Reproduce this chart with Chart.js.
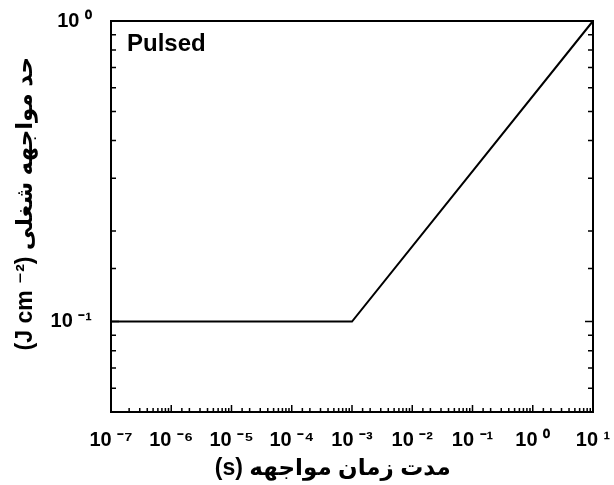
<!DOCTYPE html>
<html>
<head>
<meta charset="utf-8">
<script src="https://cdn.jsdelivr.net/npm/chart.js@4/dist/chart.umd.min.js"></script>
<style>
  body { margin: 0; background: #fff; }
  canvas { display: block; }
</style>
</head>
<body>
<canvas id="mpeChart" width="614" height="485"></canvas>
<script>
// exposure duration (s) vs exposure limit (J cm^-2)
const exposureTime = [1e-7, 1e-3, 10];
const exposureLimit = [0.1, 0.1, 1];

const xTickValues = [1e-7, 1e-6, 1e-5, 1e-4, 1e-3, 1e-2, 1e-1, 1, 10];
const xTickLabels = ['10 ⁻⁷', '10 ⁻⁶', '10 ⁻⁵', '10 ⁻⁴', '10 ⁻³', '10 ⁻²', '10 ⁻¹', '10 ⁰', '10 ¹'];
const yTickValues = [0.1, 1];
const yTickLabels = ['10 ⁻¹', '10 ⁰'];

// RTL embedding so the Persian reads right to left; spaces outside it nudge the centring
const xTitle = '\u202Bمدت زمان مواجهه (s)\u202C      ';
const yTitle = '    \u202Bحد مواجهه شغلی (J cm ⁻²)\u202C';
const panelLabel = 'Pulsed';

const tickFont = { family: 'Liberation Sans, Arial, sans-serif', size: 20, weight: 'bold' };

function decadeLabel(value, values, labels) {
    for (let i = 0; i < values.length; i++) {
        if (Math.abs(Math.log10(value) - Math.log10(values[i])) < 1e-6) return labels[i];
    }
    return '';
}

// frame, inward tick marks and the "Pulsed" label
const framePlugin = {
    id: 'frame',
    afterDatasetsDraw(chart) {
        const ctx = chart.ctx;
        const area = chart.chartArea;
        const xs = chart.scales.x, ys = chart.scales.y;
        ctx.save();
        ctx.strokeStyle = '#000';
        ctx.lineWidth = 1.5;
        ctx.beginPath();
        ys.ticks.forEach(t => {
            const y = ys.getPixelForValue(t.value);
            if (y <= area.top + 1 || y >= area.bottom - 1) return;
            const len = decadeLabel(t.value, yTickValues, yTickLabels) ? 8 : 5;
            ctx.moveTo(area.left, y); ctx.lineTo(area.left + len, y);
            ctx.moveTo(area.right, y); ctx.lineTo(area.right - len, y);
        });
        xs.ticks.forEach(t => {
            const x = xs.getPixelForValue(t.value);
            if (x <= area.left + 1 || x >= area.right - 1) return;
            const len = decadeLabel(t.value, xTickValues, xTickLabels) ? 7 : 4;
            ctx.moveTo(x, area.bottom); ctx.lineTo(x, area.bottom - len);
        });
        ctx.stroke();
        ctx.lineWidth = 2;
        ctx.strokeRect(area.left, area.top, area.right - area.left, area.bottom - area.top);
        ctx.fillStyle = '#000';
        ctx.font = 'bold 24px "Liberation Sans", Arial, sans-serif';
        ctx.textBaseline = 'alphabetic';
        ctx.textAlign = 'left';
        ctx.fillText(panelLabel, area.left + 16, area.top + 30);
        ctx.restore();
    }
};

new Chart(document.getElementById('mpeChart'), {
    type: 'line',
    data: {
        datasets: [{
            data: exposureTime.map((t, i) => ({ x: t, y: exposureLimit[i] })),
            borderColor: '#000',
            borderWidth: 2,
            pointRadius: 0,
            tension: 0,
            fill: false,
            clip: 4
        }]
    },
    options: {
        responsive: false,
        animation: false,
        devicePixelRatio: 1,
        layout: { padding: { top: 21, right: 21, left: 0, bottom: 0 } },
        plugins: { legend: { display: false }, tooltip: { enabled: false } },
        scales: {
            x: {
                type: 'logarithmic',
                min: 1e-7,
                max: 10,
                grid: { display: false, drawTicks: false },
                border: { display: false },
                ticks: {
                    autoSkip: false,
                    maxRotation: 0,
                    minRotation: 0,
                    padding: 16,
                    color: '#000',
                    font: tickFont,
                    callback: v => decadeLabel(v, xTickValues, xTickLabels)
                },
                title: {
                    display: true, text: xTitle, color: '#000',
                    font: { family: 'Liberation Sans, DejaVu Sans, sans-serif', size: 23, weight: 'bold' },
                    padding: { top: 0, bottom: 3 }
                },
                afterFit: s => { s.height = 73; s.paddingLeft = 0; s.paddingRight = 0; }
            },
            y: {
                type: 'logarithmic',
                min: 0.05,
                max: 1,
                grid: { display: false, drawTicks: false },
                border: { display: false },
                ticks: {
                    autoSkip: false,
                    padding: 19,
                    color: '#000',
                    font: tickFont,
                    callback: v => decadeLabel(v, yTickValues, yTickLabels)
                },
                title: {
                    display: true, text: yTitle, color: '#000',
                    font: { family: 'Liberation Sans, DejaVu Sans, sans-serif', size: 23, weight: 'bold' },
                    padding: { top: 12, bottom: 0 }
                },
                afterFit: s => { s.width = 111; s.paddingTop = 0; s.paddingBottom = 0; }
            }
        }
    },
    plugins: [framePlugin]
});
</script>
</body>
</html>
